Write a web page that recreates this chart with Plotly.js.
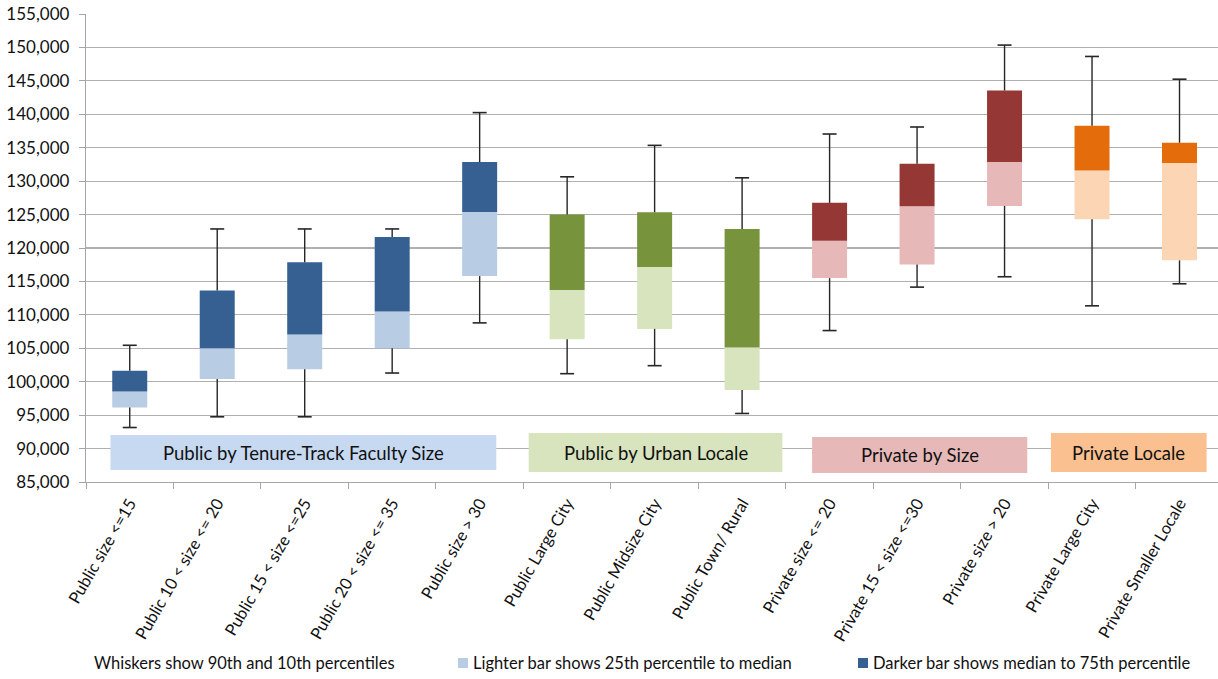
<!DOCTYPE html>
<html>
<head>
<meta charset="utf-8">
<script src="https://cdn.plot.ly/plotly-3.0.1.min.js"></script>
<style>html,body{margin:0;padding:0;background:#fff;}#chart{width:1218px;height:679px;}</style>
</head>
<body>
<div id="chart"></div>
<script>
// ---- data ----
var categories = [
  "Public size <=15", "Public 10 < size <= 20", "Public 15 < size <=25", "Public 20 < size <= 35",
  "Public size > 30", "Public Large City", "Public Midsize City", "Public Town/ Rural",
  "Private size <= 20", "Private 15 < size <=30", "Private size > 20", "Private Large City",
  "Private Smaller Locale"
];
var groupOf = ["pubSize","pubSize","pubSize","pubSize","pubSize","pubLocale","pubLocale","pubLocale",
  "privSize","privSize","privSize","privLocale","privLocale"];
var p10 = [93150, 94750, 94750, 101300, 108800, 101200, 102400, 95250, 107650, 114150, 115700, 111350, 114650];
var p25 = [96150, 100400, 101850, 105000, 115800, 106350, 107900, 98750, 115500, 117550, 126300, 124300, 118150];
var median = [98550, 105000, 107050, 110500, 125400, 113700, 117150, 105100, 121100, 126250, 132850, 131600, 132700];
var p75 = [101650, 113650, 117850, 121650, 132850, 125000, 125350, 122850, 126750, 132600, 143550, 138300, 135750];
var p90 = [105450, 122850, 122850, 122850, 140250, 130650, 135350, 130500, 137050, 138100, 150350, 148650, 145250];
var groupLabels = ["Public by Tenure-Track Faculty Size", "Public by Urban Locale", "Private by Size", "Private Locale"];
var legendTexts = ["Whiskers show 90th and 10th percentiles", "Lighter bar shows 25th percentile to median", "Darker bar shows median to 75th percentile"];

// ---- styles ----
var palette = {
  pubSize:   {light: "#b8cce4", dark: "#366092", box: "#c6d9f1"},
  pubLocale: {light: "#d7e4bd", dark: "#77933c", box: "#d7e4bd"},
  privSize:  {light: "#e6b9b8", dark: "#953735", box: "#e6b9b8"},
  privLocale:{light: "#fcd5b5", dark: "#e46c0a", box: "#fac090"}
};
var groupKeys = ["pubSize","pubLocale","privSize","privLocale"];
// box geometry (category units / value units)
var boxGeom = [
  {x0: -0.22, x1: 4.19, y0: 86780, y1: 92020},
  {x0: 4.56, x1: 7.46, y0: 86480, y1: 92320},
  {x0: 7.80, x1: 10.26, y0: 86330, y1: 91720},
  {x0: 10.53, x1: 12.31, y0: 86480, y1: 92320}
];

var lightColors = groupOf.map(function(g){return palette[g].light;});
var darkColors = groupOf.map(function(g){return palette[g].dark;});

var lightBar = {
  type: "bar", x: categories, base: p25,
  y: median.map(function(m,i){return m - p25[i];}),
  width: 0.4, marker: {color: lightColors, line: {width: 0}},
  hoverinfo: "skip", showlegend: false
};
var darkBar = {
  type: "bar", x: categories, base: median,
  y: p75.map(function(q,i){return q - median[i];}),
  width: 0.4, marker: {color: darkColors, line: {width: 0}},
  hoverinfo: "skip", showlegend: false
};
// whisker lines
var wx = [], wy = [];
categories.forEach(function(c,i){
  wx.push(c, c, null, c, c, null);
  wy.push(p90[i], p75[i], null, p25[i], p10[i], null);
});
var whiskers = {
  type: "scatter", mode: "lines", x: wx, y: wy,
  line: {color: "#262626", width: 1.4}, connectgaps: false,
  hoverinfo: "skip", showlegend: false
};
var capX = categories.concat(categories);
var capY = p90.concat(p10);
var caps = {
  type: "scatter", mode: "markers", x: capX, y: capY,
  marker: {symbol: "line-ew", size: 10, line: {color: "#262626", width: 1.6}},
  hoverinfo: "skip", showlegend: false
};

var L = 86, W = 1132, T = 14, H = 468;
function px2paperX(p){return (p - L) / W;}
function px2paperY(p){return (T + H - p) / H;}

var shapes = [], annotations = [];
boxGeom.forEach(function(b, i){
  shapes.push({type: "rect", xref: "x", yref: "y", x0: b.x0, x1: b.x1, y0: b.y0, y1: b.y1,
    fillcolor: palette[groupKeys[i]].box, line: {width: 0}, layer: "between"});
  annotations.push({xref: "x", yref: "y", x: (b.x0 + b.x1) / 2, y: (b.y0 + b.y1) / 2,
    text: groupLabels[i], showarrow: false, xanchor: "center", yanchor: "middle",
    font: {family: "Lato, 'Noto Sans', sans-serif", size: 18.5, color: "#111111"}});
});
// bottom legend
var legY = px2paperY(663);
var legFont = {family: "Lato, 'Noto Sans', sans-serif", size: 16.5, color: "#111111"};
annotations.push({xref: "paper", yref: "paper", x: px2paperX(92), y: legY, xanchor: "left", yanchor: "middle",
  text: legendTexts[0], showarrow: false, font: legFont});
annotations.push({xref: "paper", yref: "paper", x: px2paperX(471), y: legY, xanchor: "left", yanchor: "middle",
  text: legendTexts[1], showarrow: false, font: legFont});
annotations.push({xref: "paper", yref: "paper", x: px2paperX(871), y: legY, xanchor: "left", yanchor: "middle",
  text: legendTexts[2], showarrow: false, font: legFont});
shapes.push({type: "rect", xref: "paper", yref: "paper", x0: px2paperX(458), x1: px2paperX(468),
  y0: px2paperY(668), y1: px2paperY(658), fillcolor: palette.pubSize.light, line: {width: 0}, layer: "above"});
shapes.push({type: "rect", xref: "paper", yref: "paper", x0: px2paperX(858), x1: px2paperX(868),
  y0: px2paperY(668), y1: px2paperY(658), fillcolor: palette.pubSize.dark, line: {width: 0}, layer: "above"});

var layout = {
  width: 1218, height: 679,
  margin: {l: L, r: 1218 - L - W, t: T, b: 679 - T - H, pad: 0},
  paper_bgcolor: "#ffffff", plot_bgcolor: "#ffffff",
  barmode: "overlay", showlegend: false,
  font: {family: "Lato, 'Noto Sans', sans-serif", color: "#111111"},
  xaxis: {
    type: "category", range: [-0.5, 12.44],
    showgrid: false, showline: true, linecolor: "#a6a6a6", linewidth: 1.2,
    ticks: "outside", tickson: "boundaries", ticklen: 6, tickcolor: "#a6a6a6",
    tickangle: -60, tickfont: {size: 16.5, color: "#111111"}, ticklabelstandoff: 4,
    fixedrange: true
  },
  yaxis: {
    range: [85000, 155000], dtick: 5000, tick0: 85000, tickformat: ",d",
    showgrid: true, gridcolor: "#b0b0b0", gridwidth: 1.2,
    showline: true, linecolor: "#a6a6a6", linewidth: 1.2,
    ticks: "outside", ticklen: 6, tickcolor: "#a6a6a6", ticklabelstandoff: 6,
    tickfont: {size: 17, color: "#111111"}, zeroline: false, fixedrange: true
  },
  shapes: shapes, annotations: annotations
};

Plotly.newPlot("chart", [lightBar, darkBar, whiskers, caps], layout, {displayModeBar: false, staticPlot: true});
</script>
</body>
</html>
